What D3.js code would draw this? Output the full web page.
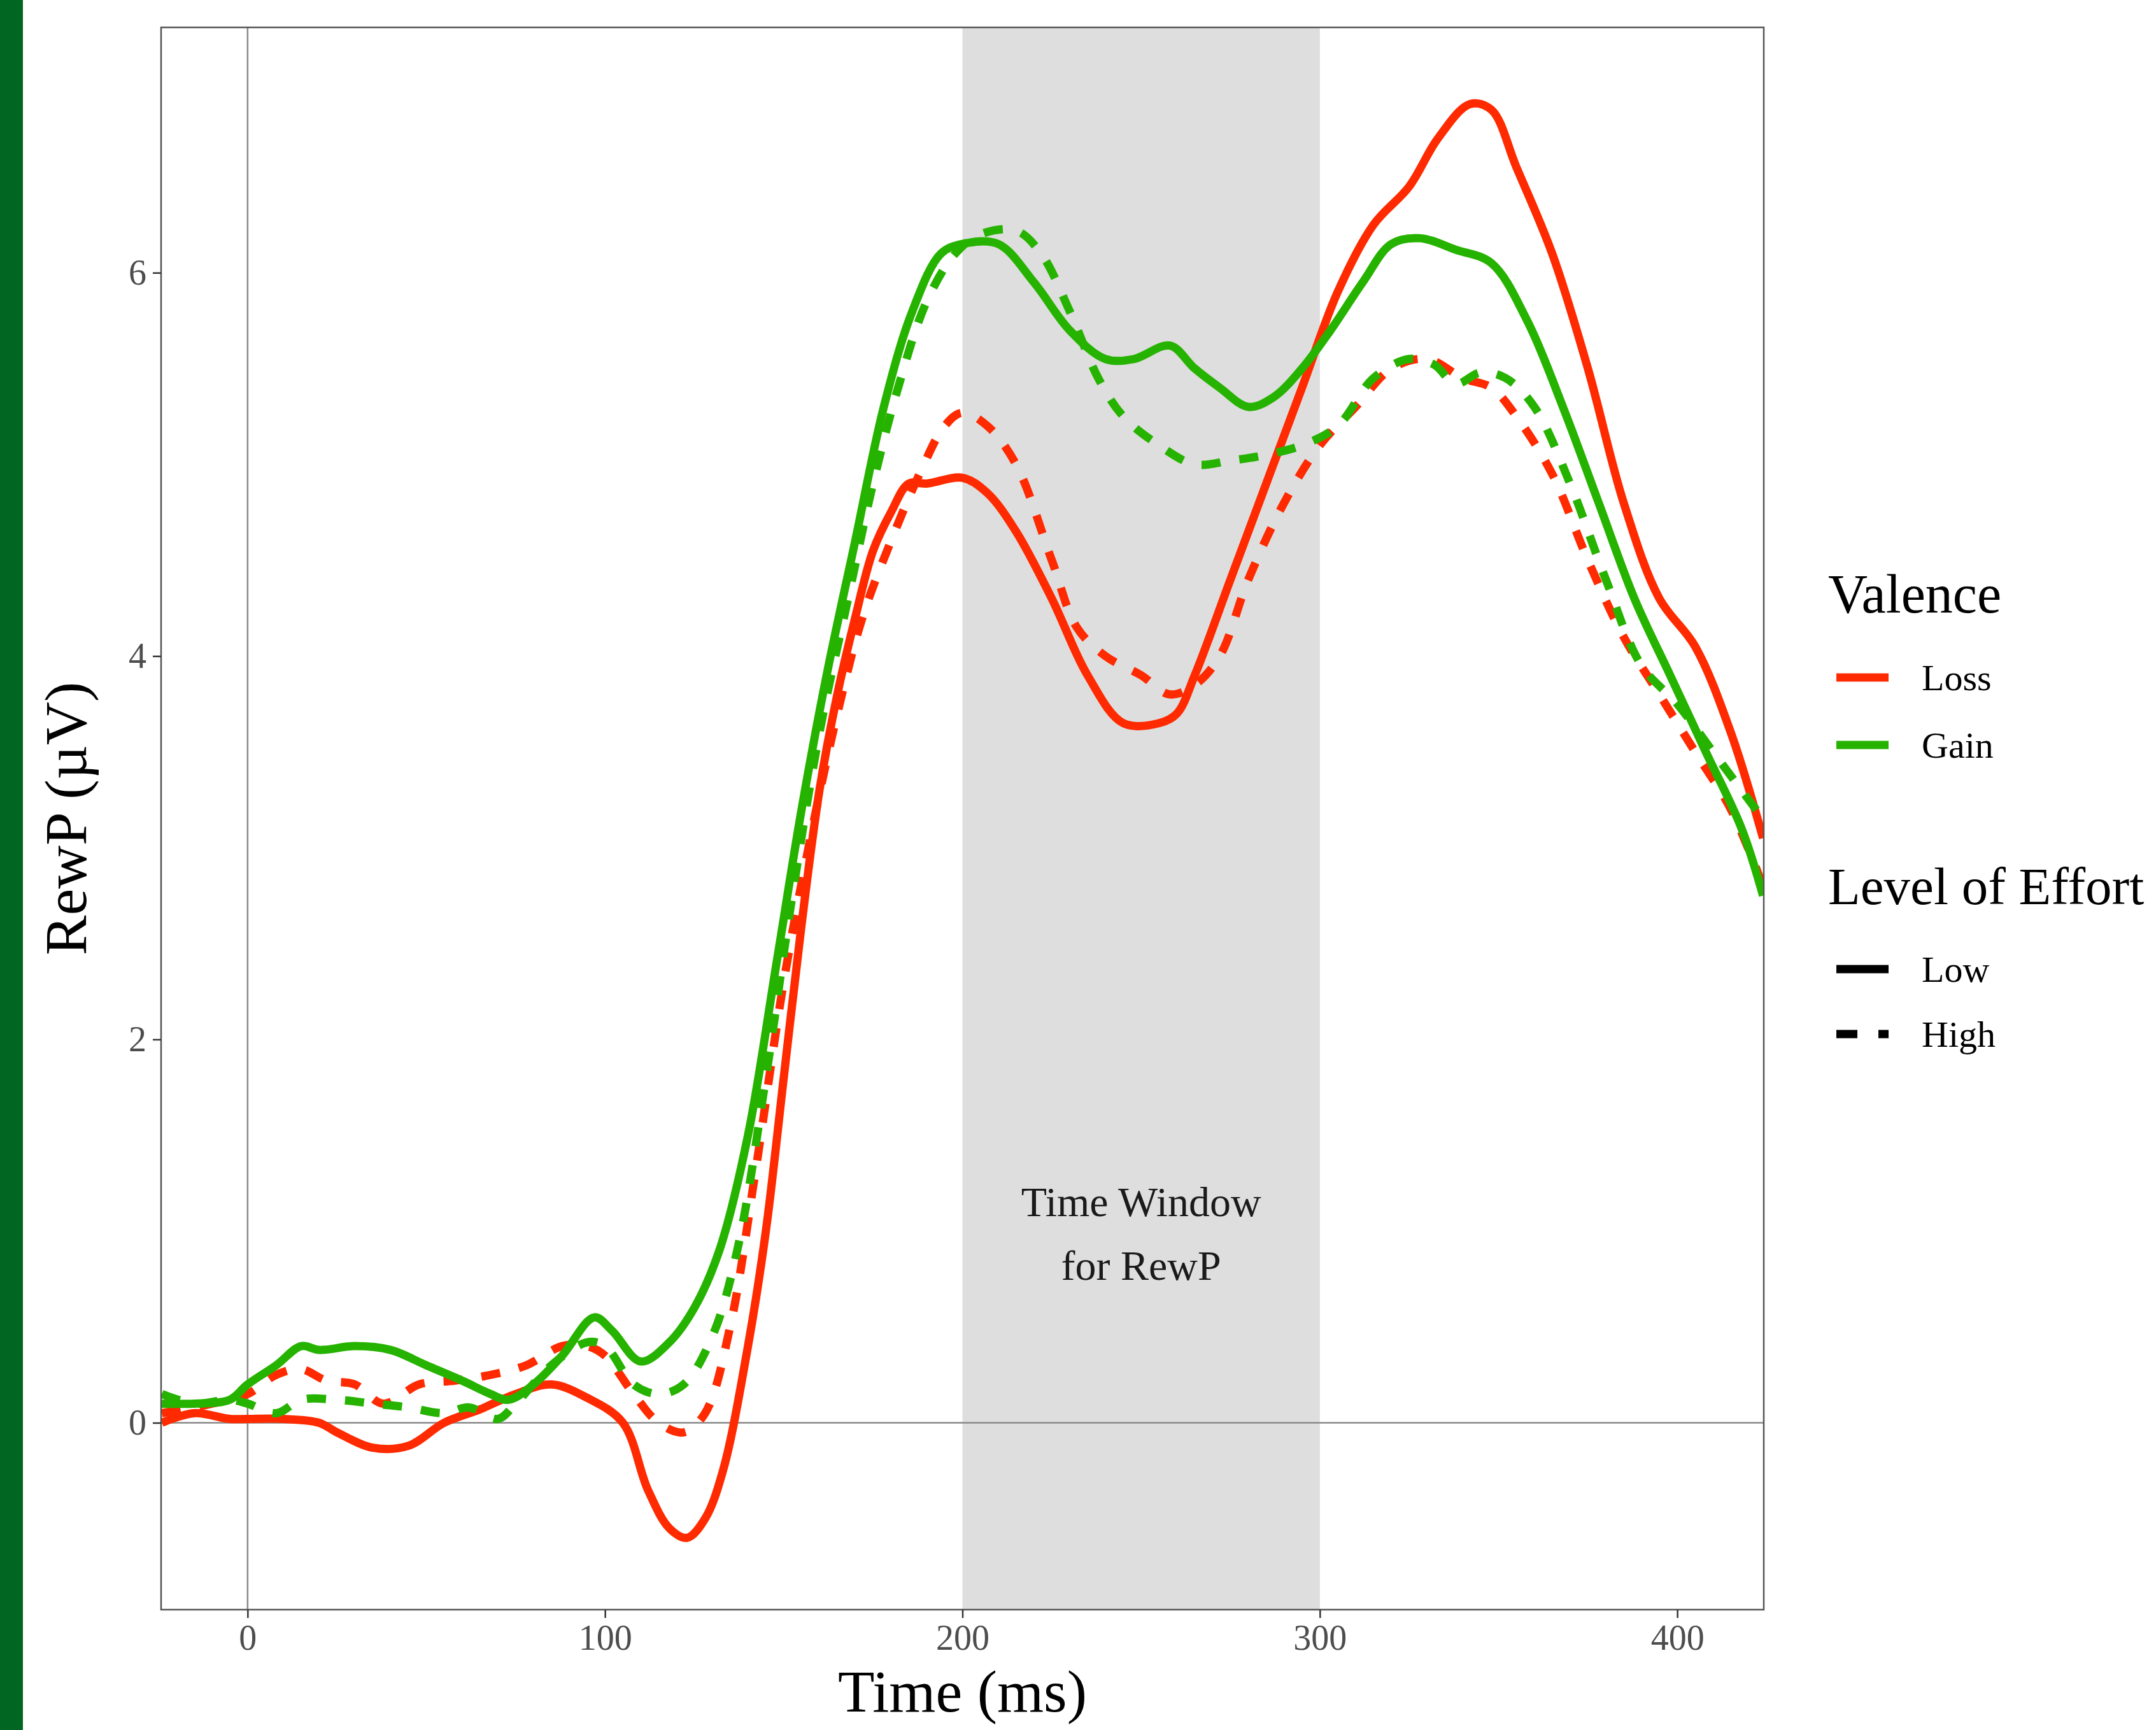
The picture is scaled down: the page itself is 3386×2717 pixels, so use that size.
<!DOCTYPE html>
<html>
<head>
<meta charset="utf-8">
<script src="https://cdn.jsdelivr.net/npm/d3@7"></script>
<style>
  body { margin: 0; background: #fff; }
  text { font-family: "Liberation Serif", "DejaVu Serif", serif; }
</style>
</head>
<body>
<script>
// ERP waveforms, time in ms, amplitude in µV
const lossLowT  = [-24,-15,-5,0,10,20,25,35,45,55,65,75,85,95,105,112,118,123,128,133,140,145,150,155,160,165,170,175,180,185,190,200,207,215,225,235,245,255,260,265,275,285,295,305,315,325,333,342,348,355,365,375,385,395,405,415,424];
const lossLowV  = [0,0.05,0.02,0.02,0.02,0,-0.05,-0.13,-0.12,0,0.07,0.15,0.2,0.13,0,-0.35,-0.55,-0.6,-0.5,-0.25,0.4,1.0,1.8,2.6,3.3,3.8,4.2,4.55,4.75,4.9,4.9,4.93,4.85,4.65,4.3,3.9,3.65,3.65,3.7,3.9,4.4,4.9,5.4,5.9,6.25,6.45,6.7,6.88,6.85,6.55,6.1,5.5,4.8,4.3,4.05,3.6,3.05];

const lossHighT = [-24,-10,0,8,15,22,30,38,48,58,68,78,88,95,100,108,115,122,128,135,142,150,158,165,172,180,188,195,200,207,215,225,232,240,250,258,265,272,280,290,300,310,320,330,340,348,355,365,375,385,395,405,415,424];
const lossHighV = [0.05,0.1,0.15,0.25,0.28,0.22,0.2,0.1,0.2,0.22,0.25,0.3,0.4,0.4,0.35,0.15,0,-0.05,0.05,0.5,1.3,2.3,3.1,3.7,4.2,4.6,4.95,5.2,5.27,5.2,5.0,4.5,4.15,4.0,3.9,3.8,3.85,4.0,4.4,4.8,5.1,5.3,5.5,5.55,5.45,5.4,5.25,4.95,4.5,4.1,3.8,3.5,3.2,2.8];

const gainLowT  = [-24,-15,-5,0,8,15,20,30,40,50,60,68,73,80,88,97,102,110,118,125,132,140,148,155,162,170,178,186,194,200,210,220,230,240,248,258,265,272,280,287,295,303,312,320,328,338,348,358,368,378,388,398,408,418,424];
const gainLowV  = [0.1,0.1,0.12,0.2,0.3,0.4,0.38,0.4,0.38,0.3,0.22,0.15,0.12,0.2,0.35,0.55,0.48,0.32,0.42,0.6,0.9,1.5,2.4,3.2,3.9,4.6,5.3,5.8,6.1,6.15,6.15,5.95,5.7,5.55,5.55,5.62,5.5,5.4,5.3,5.35,5.5,5.7,5.95,6.15,6.18,6.12,6.05,5.75,5.3,4.8,4.3,3.9,3.5,3.1,2.75];

const gainHighT = [-24,-15,-5,0,8,15,25,35,45,55,62,70,75,85,95,100,108,115,122,130,137,145,152,160,168,175,182,190,198,205,215,222,230,238,245,255,265,275,285,295,305,315,325,332,338,345,352,360,370,380,390,400,410,418,424];
const gainHighV = [0.15,0.1,0.12,0.1,0.05,0.12,0.12,0.1,0.08,0.05,0.08,0.02,0.1,0.3,0.42,0.4,0.2,0.15,0.2,0.45,0.9,1.8,2.7,3.6,4.3,4.9,5.4,5.85,6.1,6.2,6.22,6.1,5.8,5.45,5.25,5.1,5.0,5.02,5.05,5.1,5.2,5.45,5.55,5.52,5.42,5.48,5.45,5.3,4.9,4.4,3.95,3.75,3.5,3.3,3.15];

const xTicks = [0, 100, 200, 300, 400];
const yTicks = [0, 2, 4, 6];
const windowRange = [200, 300];
const valenceNames = ["Loss", "Gain"];
const effortNames = ["Low", "High"];

const red = "#ff2a00", green = "#26b300";
const series = [
  {t: lossLowT,  v: lossLowV,  color: red,   dash: null},
  {t: lossHighT, v: lossHighV, color: red,   dash: "30,30"},
  {t: gainLowT,  v: gainLowV,  color: green, dash: null},
  {t: gainHighT, v: gainHighV, color: green, dash: "30,30"}
];

const W = 3386, H = 2717;
const m = {left: 253, right: 2770, top: 43, bottom: 2528};

const svg = d3.select("body").append("svg").attr("width", W).attr("height", H);

// green strip at left
svg.append("rect").attr("x", 0).attr("y", 0).attr("width", 36).attr("height", H).attr("fill", "#006622");

const x = d3.scaleLinear().domain([-24.2, 424.2]).range([m.left, m.right]);
const y = d3.scaleLinear().domain([-0.975, 7.28]).range([m.bottom, m.top]);

// time window
svg.append("rect")
  .attr("x", x(windowRange[0])).attr("y", m.top)
  .attr("width", x(windowRange[1]) - x(windowRange[0]))
  .attr("height", m.bottom - m.top)
  .attr("fill", "#dedede");

// reference lines
svg.append("line").attr("x1", m.left).attr("x2", m.right).attr("y1", y(0)).attr("y2", y(0))
  .attr("stroke", "#8a8a8a").attr("stroke-width", 2.5);
svg.append("line").attr("x1", x(0)).attr("x2", x(0)).attr("y1", m.top).attr("y2", m.bottom)
  .attr("stroke", "#8a8a8a").attr("stroke-width", 2.5);

// annotation
const ann = svg.append("text").attr("text-anchor", "middle").attr("font-size", 66).attr("fill", "#1a1a1a");
ann.append("tspan").attr("x", x(250)).attr("y", 1910).text("Time Window");
ann.append("tspan").attr("x", x(250)).attr("y", 2010).text("for RewP");

// lines
const line = d3.line().x(d => x(d[0])).y(d => y(d[1])).curve(d3.curveCatmullRom);
const clip = svg.append("clipPath").attr("id", "clip").append("rect")
  .attr("x", m.left).attr("y", m.top).attr("width", m.right - m.left).attr("height", m.bottom - m.top);
const g = svg.append("g").attr("clip-path", "url(#clip)");
series.forEach(s => {
  g.append("path")
    .attr("d", line(s.t.map((t, i) => [t, s.v[i]])))
    .attr("fill", "none")
    .attr("stroke", s.color)
    .attr("stroke-width", 13)
    .attr("stroke-dasharray", s.dash)
    .attr("stroke-linejoin", "round");
});

// panel border
svg.append("rect").attr("x", m.left).attr("y", m.top).attr("width", m.right - m.left).attr("height", m.bottom - m.top)
  .attr("fill", "none").attr("stroke", "#555").attr("stroke-width", 2.5);

// axes
const xAxis = svg.append("g").attr("transform", `translate(0,${m.bottom})`)
  .call(d3.axisBottom(x).tickValues(xTicks).tickSize(13).tickPadding(10));
const yAxis = svg.append("g").attr("transform", `translate(${m.left},0)`)
  .call(d3.axisLeft(y).tickValues(yTicks).tickSize(13).tickPadding(10));
[xAxis, yAxis].forEach(a => {
  a.select(".domain").remove();
  a.selectAll("line").attr("stroke", "#333").attr("stroke-width", 2.5);
  a.selectAll("text").attr("font-size", 56).attr("fill", "#4d4d4d")
    .attr("font-family", "Liberation Serif, serif");
});

// axis titles
svg.append("text").attr("x", x(200)).attr("y", 2688).attr("text-anchor", "middle")
  .attr("font-size", 94).attr("fill", "#000").text("Time (ms)");
svg.append("text").attr("transform", `translate(135,${(m.top + m.bottom) / 2}) rotate(-90)`)
  .attr("text-anchor", "middle").attr("font-size", 94).attr("fill", "#000").text("RewP (µV)");

// legends
const lx = 2871;
svg.append("text").attr("x", lx).attr("y", 962).attr("font-size", 86).text("Valence");
valenceNames.forEach((n, i) => {
  const yy = 1064 + i * 106;
  svg.append("line").attr("x1", 2884).attr("x2", 2966).attr("y1", yy).attr("y2", yy)
    .attr("stroke", i === 0 ? red : green).attr("stroke-width", 13);
  svg.append("text").attr("x", 3018).attr("y", yy + 20).attr("font-size", 58).text(n);
});
svg.append("text").attr("x", lx).attr("y", 1420).attr("font-size", 83).text("Level of Effort");
effortNames.forEach((n, i) => {
  const yy = 1522 + i * 102;
  svg.append("line").attr("x1", 2884).attr("x2", 2966).attr("y1", yy).attr("y2", yy)
    .attr("stroke", "#000").attr("stroke-width", 13).attr("stroke-dasharray", i === 0 ? null : "33,33");
  svg.append("text").attr("x", 3018).attr("y", yy + 20).attr("font-size", 58).text(n);
});
</script>
</body>
</html>
